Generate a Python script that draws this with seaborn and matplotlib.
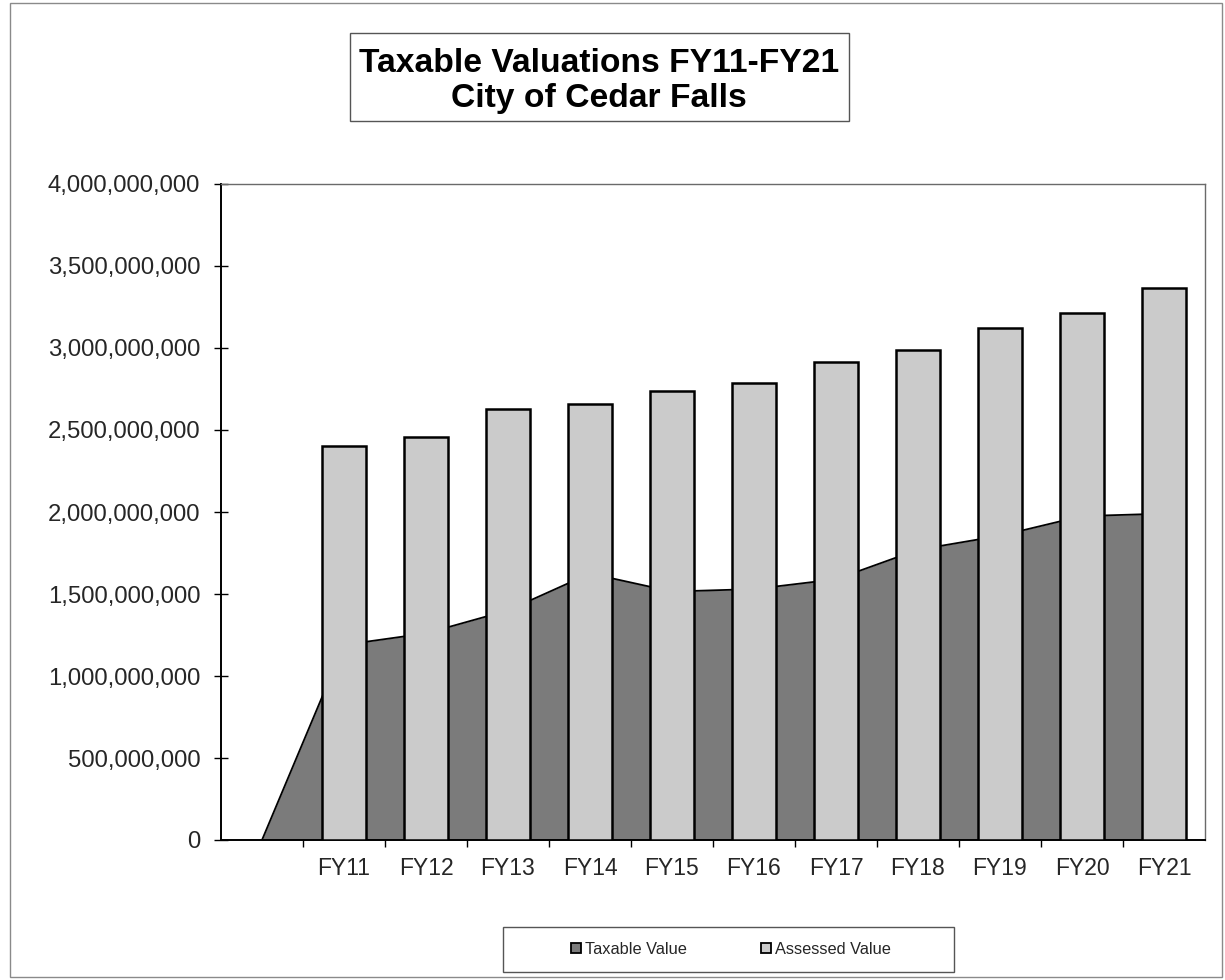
import numpy as np
import pandas as pd
import matplotlib
matplotlib.use("Agg")
import matplotlib.pyplot as plt
import seaborn as sns
from matplotlib.patches import Rectangle
from matplotlib.lines import Line2D
from matplotlib.ticker import FuncFormatter, FixedLocator

# ---------------- data ----------------
categories = ["", "FY11", "FY12", "FY13", "FY14", "FY15", "FY16",
              "FY17", "FY18", "FY19", "FY20", "FY21"]
taxable_value = [0, 1.19e9, 1.26e9, 1.40e9, 1.625e9, 1.515e9, 1.53e9,
                 1.59e9, 1.77e9, 1.855e9, 1.975e9, 1.99e9]
assessed_value = [np.nan, 2.40e9, 2.46e9, 2.625e9, 2.66e9, 2.74e9, 2.785e9,
                  2.915e9, 2.985e9, 3.12e9, 3.215e9, 3.365e9]
y_ticks = [0, 5e8, 1e9, 1.5e9, 2e9, 2.5e9, 3e9, 3.5e9, 4e9]
title_lines = ["Taxable Valuations FY11-FY21", "City of Cedar Falls"]
legend_labels = ["Taxable Value", "Assessed Value"]

TAX_COLOR = "#7b7b7b"
ASSESS_COLOR = "#cbcbcb"

sns.set_theme(style="white")
plt.rcParams["font.family"] = ["Liberation Sans", "DejaVu Sans"]

W, H = 1225, 980
fig = plt.figure(figsize=(W / 100, H / 100), dpi=100)
fig.patch.set_facecolor("white")

ax = fig.add_axes([221 / W, 1 - 840 / H, (1205 - 221) / W, (840 - 184) / H])

df = pd.DataFrame({"category": categories,
                   "assessed": assessed_value,
                   "taxable": taxable_value})

sns.barplot(data=df, x="category", y="assessed", order=categories,
            color=ASSESS_COLOR, saturation=1, width=0.53,
            edgecolor="black", linewidth=1.8, ax=ax, zorder=3)

xpos = np.arange(len(categories))
ax.fill_between(xpos, df["taxable"], 0, color=TAX_COLOR, linewidth=0, zorder=1)
ax.plot(xpos, df["taxable"], color="black", linewidth=1.3, zorder=2)

ax.set_xlim(-0.5, len(categories) - 0.5)
ax.set_ylim(0, 4e9)
ax.set_xlabel("")
ax.set_ylabel("")

# y axis
ax.yaxis.set_major_locator(FixedLocator(y_ticks))
ax.yaxis.set_major_formatter(FuncFormatter(lambda v, p: f"{int(round(v)):,}"))
ax.tick_params(axis="y", which="major", direction="inout", length=10,
               width=1.0, color="black", labelsize=17.2, pad=10, left=True)

# x axis: ticks at category boundaries, labels at centres
ax.xaxis.set_major_locator(FixedLocator(np.arange(0.5, len(categories) - 1, 1.0)))
ax.xaxis.set_minor_locator(FixedLocator(xpos[1:]))
ax.set_xticklabels([], minor=False)
ax.set_xticklabels(categories[1:], minor=True)
ax.tick_params(axis="x", which="major", direction="out", length=5,
               width=1.0, color="black", bottom=True)
ax.tick_params(axis="x", which="minor", length=0, labelsize=16.5, pad=12.5,
               bottom=True)

for s in ["left", "bottom"]:
    ax.spines[s].set_color("black")
    ax.spines[s].set_linewidth(1.4)
for s in ["top", "right"]:
    ax.spines[s].set_color("#6a6a6a")
    ax.spines[s].set_linewidth(1.0)
ax.set_facecolor("white")
ax.grid(False)

# figure border
fig.add_artist(Rectangle((10 / W, 3 / H), (1222 - 10) / W, (977 - 3) / H,
                         transform=fig.transFigure, fill=False,
                         edgecolor="#8a8a8a", linewidth=1.0))

# title box
fig.add_artist(Rectangle((350 / W, 1 - 121 / H), (849 - 350) / W, (121 - 33) / H,
                         transform=fig.transFigure, fill=False,
                         edgecolor="#555555", linewidth=1.0))
fig.text(599 / W, 1 - 81 / H, "\n".join(title_lines), ha="center", va="center",
         fontsize=24.2, fontweight="bold", linespacing=1.13, color="black")

# legend
fig.add_artist(Rectangle((503 / W, 1 - 972 / H), (954 - 503) / W, (972 - 927) / H,
                         transform=fig.transFigure, fill=False,
                         edgecolor="#555555", linewidth=1.0))
handles = [
    Line2D([], [], linestyle="none", marker="s", markersize=6.5,
           markerfacecolor=TAX_COLOR, markeredgecolor="black", markeredgewidth=1.3),
    Line2D([], [], linestyle="none", marker="s", markersize=6.5,
           markerfacecolor=ASSESS_COLOR, markeredgecolor="black", markeredgewidth=1.3),
]
fig.legend(handles, legend_labels, loc="center",
           bbox_to_anchor=(731 / W, 1 - 949 / H), bbox_transform=fig.transFigure,
           ncol=2, frameon=False, fontsize=11.8, handlelength=0.6,
           handletextpad=0.25, columnspacing=4.5, borderpad=0)

fig.savefig("out.png", dpi=100, facecolor="white")
